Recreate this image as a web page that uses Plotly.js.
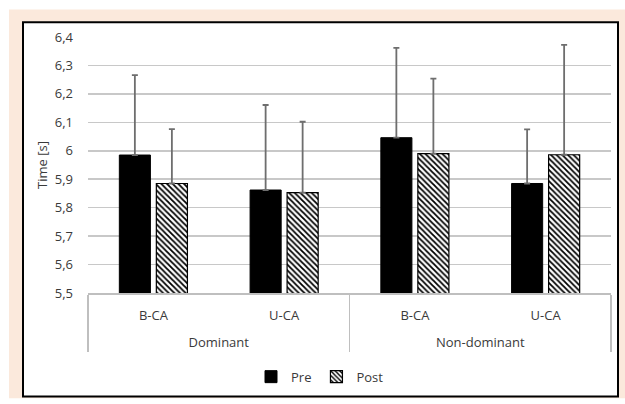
<!DOCTYPE html>
<html>
<head>
<meta charset="utf-8">
<script src="https://cdn.plot.ly/plotly-3.0.1.min.js"></script>
<style>
  html, body { margin: 0; padding: 0; background: #ffffff; }
  #chart { width: 625px; height: 404px; }
</style>
</head>
<body>
<div id="chart"></div>
<script>
// ---- data ----
const groups = ["Dominant", "Dominant", "Non-dominant", "Non-dominant"];
const conditions = ["B-CA", "U-CA", "B-CA", "U-CA"];
const preValues = [5.985, 5.862, 6.046, 5.885];
const preErrors = [0.281, 0.299, 0.316, 0.190];
const postValues = [5.885, 5.853, 5.990, 5.986];
const postErrors = [0.191, 0.249, 0.264, 0.386];
const yTickVals = [5.5, 5.6, 5.7, 5.8, 5.9, 6.0, 6.1, 6.2, 6.3, 6.4];
const yTickText = ["5,5", "5,6", "5,7", "5,8", "5,9", "6", "6,1", "6,2", "6,3", "6,4"];
const zeros = [0, 0, 0, 0];

const fam = "Open Sans, Noto Sans, sans-serif";
const txtColor = "#3a3a3a";
const errStyle = { type: "data", symmetric: false, color: "#6e6e6e", thickness: 1.8, width: 3 };

// second-level labels get a leading line break to sit lower, as in the original
const groupLabels = groups.map(g => "<br>" + g);

const traces = [
  {
    type: "bar", name: "Pre",
    x: [groupLabels, conditions], y: preValues,
    marker: { color: "#000000", line: { color: "#000000", width: 1 } },
    error_y: Object.assign({ array: preErrors, arrayminus: zeros }, errStyle)
  },
  {
    type: "bar", name: "Post",
    x: [groupLabels, conditions], y: postValues,
    marker: {
      color: "#ffffff",
      line: { color: "#000000", width: 1.2 },
      pattern: { shape: "\\", fgcolor: "#000000", bgcolor: "#ffffff", size: 4, solidity: 0.45 }
    },
    error_y: Object.assign({ array: postErrors, arrayminus: zeros }, errStyle)
  }
];

// plot area in px: x 88..611, y 37..297
const L = 88, R = 611, T = 37, B = 297;
const px = v => (v - L) / (R - L);
const py = v => (B - v) / (B - T);

const layout = {
  width: 625, height: 404,
  margin: { l: L, r: 625 - R, t: T, b: 404 - B, pad: 0 },
  paper_bgcolor: "#ffffff",
  plot_bgcolor: "rgba(0,0,0,0)",
  font: { family: fam, size: 13, color: txtColor },
  barmode: "group",
  bargap: 0.434,
  bargroupgap: 0.16,
  showlegend: true,
  legend: {
    orientation: "h", x: px(320), y: py(382), xanchor: "center", yanchor: "middle",
    font: { family: fam, size: 13, color: txtColor },
    bgcolor: "rgba(0,0,0,0)", traceorder: "normal", itemwidth: 30
  },
  xaxis: {
    type: "multicategory",
    showgrid: false, zeroline: false,
    showline: true, linecolor: "#bfbfbf", linewidth: 1.5,
    ticks: "", showdividers: true, dividercolor: "#bfbfbf", dividerwidth: 1.5,
    ticklabelstandoff: 10,
    tickfont: { family: fam, size: 13, color: txtColor }
  },
  yaxis: {
    range: [5.5, 6.4], autorange: false,
    tickvals: yTickVals, ticktext: yTickText,
    showgrid: true, gridcolor: "#c8c8c8", gridwidth: 1.5,
    zeroline: false, showline: false, ticks: "",
    ticklabelstandoff: 14,
    tickfont: { family: fam, size: 13, color: txtColor },
    title: { text: "Time [s]", font: { family: fam, size: 13, color: txtColor }, standoff: 4 }
  },
  shapes: [
    { type: "rect", xref: "paper", yref: "paper", layer: "below",
      x0: px(9), x1: px(625), y0: py(404), y1: py(9),
      fillcolor: "#fbe9dc", line: { width: 0 } },
    { type: "rect", xref: "paper", yref: "paper", layer: "below",
      x0: px(23), x1: px(618), y0: py(402), y1: py(22),
      fillcolor: "#ffffff", line: { color: "#000000", width: 2 } }
  ]
};

Plotly.newPlot("chart", traces, layout, { displayModeBar: false, staticPlot: true });
</script>
</body>
</html>
